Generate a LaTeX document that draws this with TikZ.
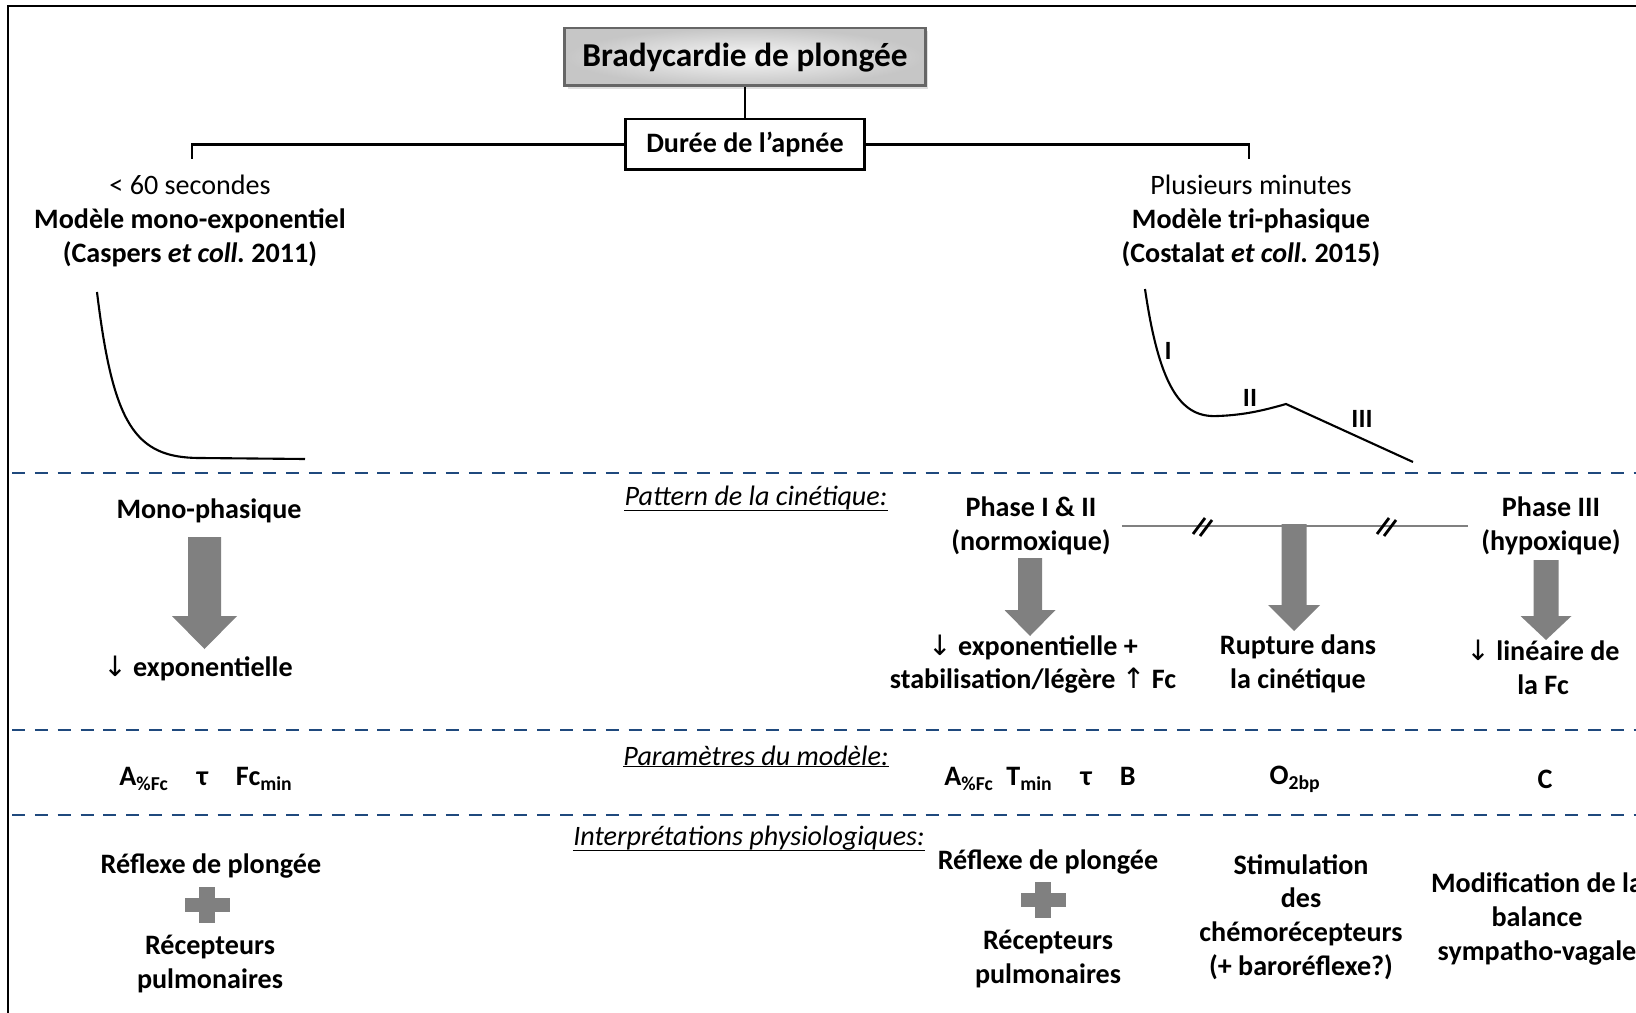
\documentclass[tikz,border=0pt]{standalone}
\usepackage{fontspec}
\setmainfont{Carlito}
\newfontfamily\flfont{DejaVu Sans}
\usepackage{tikz}
\usetikzlibrary{positioning, shadows}
\definecolor{bleusep}{RGB}{31,73,125}
\definecolor{grisfl}{RGB}{128,128,128}
\frenchspacing

\begin{document}
\begin{tikzpicture}[x=0.02cm, y=-0.02cm,
  txt/.style={font=\fontsize{16}{19.3}\selectfont\bfseries, align=center, inner sep=0pt, yshift=-1.2pt},
  txtn/.style={txt, font=\fontsize{16}{19.3}\selectfont\mdseries},
  rubrique/.style={font=\fontsize{16}{19.3}\selectfont\itshape, inner sep=0pt, yshift=-1.2pt,
    append after command={(\tikzlastnode.south west) edge[line width=0.9pt] (\tikzlastnode.south east)}},
  titrebox/.style={draw=black!60, line width=1.7pt, inner color=gray!6, outer color=gray!45,
    minimum width=7.22cm, minimum height=1.16cm, font=\fontsize{19}{22}\selectfont\bfseries,
    text depth=0.22em, drop shadow={opacity=0.25, shadow xshift=0.06cm, shadow yshift=-0.06cm}},
  dureebox/.style={draw, line width=1.7pt, fill=white, minimum width=4.78cm, minimum height=1.02cm,
    font=\fontsize{16}{19}\selectfont\bfseries},
  crochet/.style={line width=1.4pt},
  tiret/.style={bleusep, line width=1.7pt, dash pattern=on 7.4pt off 5.6pt},
  courbe/.style={line width=1.2pt},
  phase/.style={font=\fontsize{15}{18}\selectfont\bfseries, inner sep=0pt},
  fleche/.style={fill=grisfl},
  grisligne/.style={grisfl, line width=1.1pt},
  coupure/.style={line width=1.6pt},
]
  \useasboundingbox (0,0) rectangle (1636,1013);
  \clip (0,0) rectangle (1636,1013);
  \fill[white] (0,0) rectangle (1636,1013);
  \draw[line width=1.2pt] (8,6) rectangle (1700,1100);

  % titre et duree
  \node[titrebox] (titre) at (745,57) {Bradycardie de plongée};
  \node[dureebox] (duree) at (745,144.5) {Durée de l’apnée};
  \coordinate (bg) at (192,159);
  \coordinate (bd) at (1249,159);
  \draw[crochet] (titre.south) -- (duree.north);
  \draw[crochet] (duree.west) -| (bg);
  \draw[crochet] (duree.east) -| (bd);

  \node[txtn] (court) at (190,219) {< 60 secondes\\\textbf{Modèle mono-exponentiel}\\\textbf{(Caspers \textit{et coll.} 2011)}};
  \node[txtn] (long) at (1251,219) {Plusieurs minutes\\\textbf{Modèle tri-phasique}\\\textbf{(Costalat \textit{et coll.} 2015)}};

  % courbes
  \draw[courbe] (97,292) .. controls (113,425) and (135,458) .. (200,458) -- (305,459);
  \draw[courbe] (1145,289) .. controls (1160,392) and (1183,418) .. (1218,416)
    .. controls (1245,415) and (1265,410) .. (1286,404) -- (1413,462);
  \node[phase] (p1) at (1168,351) {I};
  \node[phase] (p2) at (1250,398) {II};
  \node[phase] (p3) at (1362,419) {III};

  % separateurs
  \draw[tiret] (12,473) -- (1636,473);
  \draw[tiret] (12,730) -- (1636,730);
  \draw[tiret] (12,815) -- (1636,815);

  \node[rubrique] (pattern) at (756,496) {Pattern de la cinétique:};
  \node[rubrique] (param) at (756,754) {Paramètres du modèle:};
  \node[rubrique] (interp) at (749,836) {Interprétations physiologiques:};

  % cinetique
  \node[txt] (mono) at (209,509) {Mono-phasique};
  \node[txt] (expo) at (198,666) {{\flfont\mdseries ↓} exponentielle};
  \node[txt] (phase12) at (1031,524) {Phase I \& II\\(normoxique)};
  \node[txt] (expo2) at (1033,662) {{\flfont\mdseries ↓} exponentielle +\\stabilisation/légère {\flfont\mdseries ↑} Fc};
  \node[txt] (rupt) at (1298,662) {Rupture dans\\la cinétique};
  \node[txt] (phase3) at (1551,524) {Phase III\\(hypoxique)};
  \node[txt] (lin) at (1543,665) {{\flfont\mdseries ↓} linéaire de\\la Fc};

  \draw[grisligne, shorten <=6.2pt, shorten >=7.4pt] (phase12.east) -- (phase12.east -| phase3.west);
  \foreach \bx in {1203,1387} {
    \draw[coupure] (\bx-10,534) -- (\bx+2,518);
    \draw[coupure] (\bx-3,536) -- (\bx+9,520);
  }

  \fill[fleche] (188,537) -- (221,537) -- (221,616) -- (237,616) -- (204.5,649) -- (172,616) -- (188,616) -- cycle;
  \fill[fleche] (1018,558) -- (1042,558) -- (1042,610) -- (1055.5,610) -- (1030,636) -- (1004.5,610) -- (1018,610) -- cycle;
  \fill[fleche] (1281.5,524) -- (1306.5,524) -- (1306.5,605) -- (1320,605) -- (1294,631) -- (1268,605) -- (1281.5,605) -- cycle;
  \fill[fleche] (1533.5,560) -- (1558.5,560) -- (1558.5,616) -- (1571.5,616) -- (1546,640) -- (1520.5,616) -- (1533.5,616) -- cycle;

  % parametres
  \node[txt] (par1) at (206,777) {A\textsubscript{\%Fc}\quad τ\quad Fc\textsubscript{min}};
  \node[txt] (par2) at (1040,777) {A\textsubscript{\%Fc}\hspace{0.45em}T\textsubscript{min}\quad τ\quad B};
  \node[txt] (par3) at (1295,777) {O\textsubscript{2bp}};
  \node[txt] (par4) at (1545,777) {C};

  % interpretations
  \node[txt] (reflexe1) at (211,864) {Réflexe de plongée};
  \node[txt] (recep1) at (210,962) {Récepteurs\\pulmonaires};
  \node[txt] (reflexe2) at (1048,860) {Réflexe de plongée};
  \node[txt] (recep2) at (1048,957) {Récepteurs\\pulmonaires};
  \node[txt] (stim) at (1301,915) {Stimulation\\des\\chémorécepteurs\\(+ baroréflexe?)};
  \node[txt] (modif) at (1537,917) {Modification de la\\balance\\sympatho-vagale};

  \fill[fleche] (199,887) rectangle (215,923);
  \fill[fleche] (185,898) rectangle (230,912);
  \fill[fleche] (1035,882) rectangle (1051,918);
  \fill[fleche] (1021,893) rectangle (1066,907);
\end{tikzpicture}
\end{document}
